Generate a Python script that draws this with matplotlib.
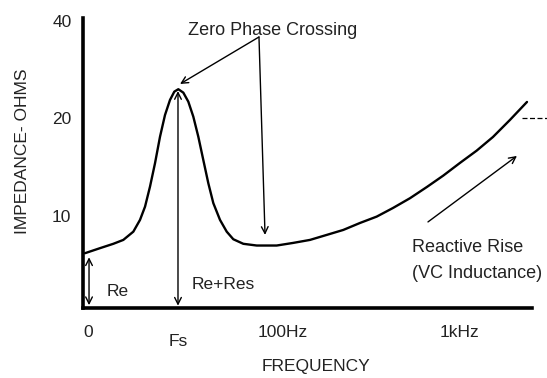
import matplotlib
matplotlib.use("Agg")
import matplotlib.pyplot as plt

plt.rcParams['font.family'] = ['Liberation Sans', 'DejaVu Sans']

# Impedance curve (schematic), frequency in Hz, impedance in ohms
freq_hz = [7.553, 9.188, 10.93, 12.45, 14.19, 15.48, 16.53, 17.64, 18.83, 20.10,
           21.45, 22.89, 24.22, 25.52, 27.24, 29.07, 31.03, 33.12, 35.35, 37.74,
           40.29, 43.96, 47.98, 52.29, 59.58, 70.96, 92.10, 113.9, 142.2, 177.5,
           219.6, 273.1, 339.6, 420.1, 524.2, 654.6, 809.5, 1007, 1252, 1548,
           1932, 2413]
impedance = [7.67, 7.95, 8.20, 8.43, 8.94, 9.72, 10.68, 12.32, 14.55, 17.57,
             20.50, 22.81, 24.20, 24.62, 24.03, 22.54, 20.26, 17.57, 14.89, 12.62,
             10.95, 9.72, 8.94, 8.47, 8.20, 8.10, 8.10, 8.25, 8.43, 8.74,
             9.05, 9.51, 9.95, 10.58, 11.34, 12.29, 13.32, 14.58, 15.91, 17.53,
             19.79, 22.49]

y_ticks = [10, 20, 40]
y_tick_labels = ["10", "20", "40"]
x_ticks = [7.855, 100, 1000]
x_tick_labels = ["0", "100Hz", "1kHz"]
fs_hz = 25.41
re_ohm = 7.6
peak_ohm = 24.3
ref_level = 20

fig = plt.figure(figsize=(5.47, 3.78), dpi=100)
ax = fig.add_axes([82.5/547, 1-308/378, (532-82.5)/547, (308-18)/378])
ax.set_xscale('log')
ax.set_yscale('log')
ax.set_xlim(7.31, 2576)
ax.set_ylim(5.194, 40.86)

ax.plot(freq_hz, impedance, color='black', lw=1.7, solid_capstyle='round',
        solid_joinstyle='round')

for s in ['top', 'right']:
    ax.spines[s].set_visible(False)
for s in ['left', 'bottom']:
    ax.spines[s].set_linewidth(2.6)
    ax.spines[s].set_color('black')

ax.minorticks_off()
ax.set_yticks(y_ticks)
ax.set_yticklabels(y_tick_labels)
ax.set_xticks(x_ticks)
ax.set_xticklabels(x_tick_labels)
ax.tick_params(axis='both', length=0, labelsize=12.5, colors='#222222')
ax.tick_params(axis='y', pad=8)
ax.tick_params(axis='x', pad=12)
ax.minorticks_off()

ax.text(fs_hz, -0.09, "Fs", transform=ax.get_xaxis_transform(), ha='center',
        va='top', fontsize=12.5, color='#222222')

fig.text(23/547, 1-151/378, "IMPEDANCE- OHMS", rotation=90, ha='center', va='center',
         fontsize=12.5, color='#222222')
fig.text(316/547, 1-367/378, "FREQUENCY", ha='center', va='center',
         fontsize=12.5, color='#222222')

arrow_kw = dict(color='black', lw=1.0, shrinkA=0, shrinkB=0, mutation_scale=12)

# Re double arrow
ax.annotate("", xy=(7.96, 5.3), xytext=(7.96, 7.45),
            arrowprops=dict(arrowstyle='<->', **arrow_kw))
ax.text(10.06, 5.83, "Re", fontsize=12.5, ha='left', va='center', color='#222222')

# Re+Res double arrow
ax.annotate("", xy=(fs_hz, 5.28), xytext=(fs_hz, peak_ohm),
            arrowprops=dict(arrowstyle='<->', **arrow_kw))
ax.text(30.5, 6.12, "Re+Res", fontsize=12.5, ha='left', va='center', color='#222222')

# Zero phase crossing
ax.text(87.2, 36.2, "Zero Phase Crossing", fontsize=13, ha='center', va='baseline',
        color='#222222')
ax.annotate("", xy=(26.1, 25.56), xytext=(73.1, 35.7),
            arrowprops=dict(arrowstyle='->', **arrow_kw))
ax.annotate("", xy=(79.1, 8.735), xytext=(73.1, 35.7),
            arrowprops=dict(arrowstyle='->', **arrow_kw))

# Reactive rise
ax.annotate("", xy=(2117, 15.32), xytext=(663, 9.58),
            arrowprops=dict(arrowstyle='->', **arrow_kw))
ax.text(538, 7.74, "Reactive Rise", fontsize=13, ha='left', va='baseline', color='#222222')
ax.text(538, 6.43, "(VC Inductance)", fontsize=13, ha='left', va='baseline', color='#222222')

# dashed reference line
ax.plot([2260, 3130], [ref_level, ref_level], color='black', lw=0.9,
        ls=(0, (4, 2)), clip_on=False)

fig.savefig("out.png", dpi=100)
